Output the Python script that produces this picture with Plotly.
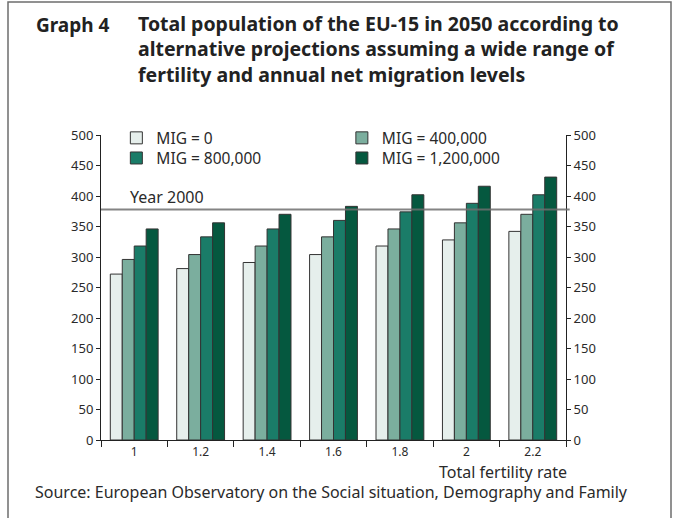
import plotly.graph_objects as go

# Total fertility rate scenarios (x categories)
fertility = ["1", "1.2", "1.4", "1.6", "1.8", "2", "2.2"]

# EU-15 population in 2050 (millions) by annual net migration level
mig_0 = [272, 281, 291, 304, 318, 328, 342]
mig_400k = [296, 304, 318, 333, 346, 356, 370]
mig_800k = [318, 333, 346, 360, 374, 388, 402]
mig_1200k = [346, 356, 370, 383, 402, 416, 431]

series_names = ["MIG = 0", "MIG = 400,000", "MIG = 800,000", "MIG = 1,200,000"]
series_values = [mig_0, mig_400k, mig_800k, mig_1200k]
series_colors = ["#e6efec", "#7bae9e", "#1a7c68", "#05583f"]
series_legends = ["legend", "legend2", "legend3", "legend4"]

year_2000 = 378

title_lines = [
    "Total population of the EU-15 in 2050 according to",
    "alternative projections assuming a wide range of",
    "fertility and annual net migration levels",
]

FONT = "Noto Sans"
TEXT = "#2a2a2a"

# plot area in pixels: x 101..566, y 440 (value 0) .. 135 (value 500)
PX_L, PX_W, PX_B, PX_H = 101, 465, 440, 305


def px_x(px):
    return (px - PX_L) / PX_W


def px_y(py):
    return (PX_B - py) / PX_H


fig = go.Figure()
for name, vals, col, leg in zip(series_names, series_values, series_colors, series_legends):
    fig.add_trace(go.Bar(
        x=fertility, y=vals, name=name,
        marker=dict(color=col, line=dict(color="#333333", width=1)),
        legend=leg,
    ))

# carrier for the right-hand value axis
fig.add_trace(go.Scatter(x=[fertility[0]], y=[year_2000], yaxis="y2", mode="markers",
                         marker=dict(opacity=0), showlegend=False, hoverinfo="skip"))

# reference level of the population in 2000
fig.add_shape(type="line", xref="paper", yref="y", x0=0, x1=1.008,
              y0=year_2000, y1=year_2000, layer="above",
              line=dict(color="rgba(110,110,110,0.85)", width=2))
fig.add_annotation(xref="paper", yref="y", x=px_x(128), y=year_2000, yshift=-1,
                   text="Year 2000", showarrow=False, xanchor="left", yanchor="bottom",
                   font=dict(family=FONT, size=16, color=TEXT))

# outer frame
fig.add_shape(type="rect", xref="paper", yref="paper",
              x0=px_x(8), x1=px_x(671), y0=px_y(540), y1=px_y(2), layer="below",
              line=dict(color="#6e6e6e", width=1.5))

# title block
fig.add_annotation(xref="paper", yref="paper", x=px_x(34), y=px_y(24.5),
                   text="<b>Graph 4</b>", showarrow=False, xanchor="left", yanchor="middle",
                   font=dict(family=FONT, size=19, color="#222222"))
fig.add_annotation(xref="paper", yref="paper", x=px_x(136), y=px_y(49.5),
                   text="<b>" + "<br>".join(title_lines) + "</b>", showarrow=False,
                   xanchor="left", yanchor="middle", align="left",
                   font=dict(family=FONT, size=19.5, color="#222222"))

fig.add_annotation(xref="paper", yref="paper", x=px_x(569), y=px_y(472),
                   text="Total fertility rate", showarrow=False,
                   xanchor="right", yanchor="middle",
                   font=dict(family=FONT, size=16, color=TEXT))
fig.add_annotation(xref="paper", yref="paper", x=px_x(33), y=px_y(492),
                   text="Source: European Observatory on the Social situation, Demography and Family",
                   showarrow=False, xanchor="left", yanchor="middle",
                   font=dict(family=FONT, size=16, color=TEXT))

legend_style = dict(orientation="v", yanchor="top", xanchor="left",
                    bgcolor="rgba(0,0,0,0)",
                    font=dict(family=FONT, size=15.5, color=TEXT),
                    itemwidth=30)

tick_font = dict(family=FONT, size=13, color=TEXT)

fig.update_layout(
    width=679, height=518,
    margin=dict(l=PX_L, r=679 - PX_L - PX_W, t=PX_B - PX_H, b=518 - PX_B),
    paper_bgcolor="white", plot_bgcolor="white",
    barmode="group", bargap=0.28, bargroupgap=0,
    font=dict(family=FONT, size=13, color=TEXT),
    legend=dict(x=0.033, y=1.045, **legend_style),
    legend2=dict(x=0.518, y=1.045, **legend_style),
    legend3=dict(x=0.033, y=0.979, **legend_style),
    legend4=dict(x=0.518, y=0.979, **legend_style),
    xaxis=dict(showline=True, linecolor="#222222", linewidth=1,
               ticks="outside", tickson="boundaries", ticklen=6,
               tickcolor="#222222", showgrid=False, ticklabelstandoff=1,
               tickfont=dict(family=FONT, size=12, color=TEXT)),
    yaxis=dict(range=[0, 500], dtick=50, showline=True, linecolor="#222222",
               linewidth=1, ticks="outside", ticklen=4, tickcolor="#222222",
               showgrid=False, zeroline=False, tickfont=tick_font),
    yaxis2=dict(range=[0, 500], dtick=50, overlaying="y", side="right",
                showline=True, linecolor="#222222", linewidth=1,
                ticks="outside", ticklen=4, tickcolor="#222222",
                showgrid=False, zeroline=False, tickfont=tick_font),
)

fig.write_html("out.html")
